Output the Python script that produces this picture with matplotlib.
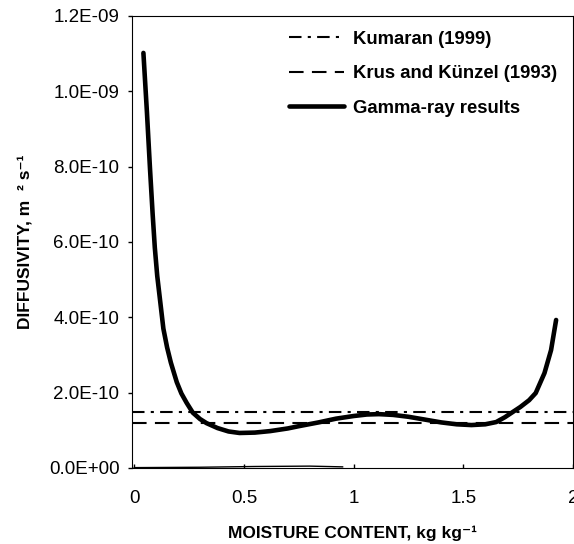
import numpy as np
import matplotlib.pyplot as plt
from matplotlib.ticker import FuncFormatter

plt.rcParams['font.family'] = ['Liberation Sans', 'DejaVu Sans']

# gamma-ray results, diffusivity in 1E-10 m2/s
moisture = [0.042, 0.058, 0.072, 0.084, 0.094, 0.105, 0.117, 0.133, 0.15, 0.167,
            0.194, 0.215, 0.239, 0.267, 0.30, 0.33, 0.38, 0.43, 0.48, 0.55,
            0.62, 0.70, 0.75, 0.84, 0.92, 1.0, 1.06, 1.115, 1.18, 1.25,
            1.32, 1.40, 1.47, 1.537, 1.60, 1.65, 1.69, 1.76, 1.80, 1.83,
            1.87, 1.90, 1.923]
diffusivity = [11.02, 9.45, 7.95, 6.75, 5.85, 5.1, 4.5, 3.7, 3.2, 2.8,
               2.28, 1.98, 1.73, 1.47, 1.30, 1.19, 1.06, 0.97, 0.93, 0.94,
               0.98, 1.05, 1.11, 1.21, 1.31, 1.38, 1.42, 1.43, 1.41, 1.36,
               1.29, 1.21, 1.16, 1.14, 1.16, 1.22, 1.35, 1.62, 1.80, 1.99,
               2.52, 3.13, 3.93]
diffusivity = np.array(diffusivity) * 1e-10

# faint trace near zero
trace_x = [0.0, 0.3, 0.55, 0.8, 0.95]
trace_y = np.array([0.01, 0.02, 0.04, 0.05, 0.03]) * 1e-10

kumaran = 1.5e-10
krus = 1.2e-10

fig = plt.figure(figsize=(5.74, 5.44), dpi=100)
ax = fig.add_axes([132/574, 1-468/544, (573-132)/574, (468-16)/544])

ax.axhline(kumaran, color='black', lw=1.5, dashes=(6, 3, 1.5, 3), label='Kumaran (1999)')
ax.axhline(krus, color='black', lw=1.5, dashes=(7, 4), label='Krus and Künzel (1993)')
ax.plot(moisture, diffusivity, color='black', lw=3.3, solid_joinstyle='round',
        solid_capstyle='round', label='Gamma-ray results')
ax.plot(trace_x, trace_y, color='black', lw=1)

ax.set_xlim(-0.01, 2.0)
ax.set_ylim(0, 1.2e-9)
ax.set_xticks([0, 0.5, 1, 1.5, 2])
ax.set_xticklabels(['0', '0.5', '1', '1.5', '2'])
ax.set_yticks(np.arange(0, 1.21e-9, 2e-10))
ax.yaxis.set_major_formatter(FuncFormatter(lambda v, p: f"{v:.1E}"))
ax.tick_params(axis='y', direction='out', length=3, width=1, labelsize=13.5, pad=6)
ax.tick_params(axis='x', direction='in', length=3, width=1, labelsize=13.5, pad=16)

ax.set_xlabel('MOISTURE CONTENT, kg kg\u207b\u00b9', fontsize=12.5, fontweight='bold', labelpad=13)
ax.set_ylabel('DIFFUSIVITY, m  \u00b2 s\u207b\u00b9', fontsize=12.5, fontweight='bold', labelpad=12)

leg = ax.legend(loc='upper right', frameon=False, prop={'weight': 'bold', 'size': 13.3},
                handlelength=3.0, handletextpad=0.5, labelspacing=0.95,
                borderaxespad=0.2, bbox_to_anchor=(0.99, 0.992))

fig.savefig('out.png', dpi=100)
